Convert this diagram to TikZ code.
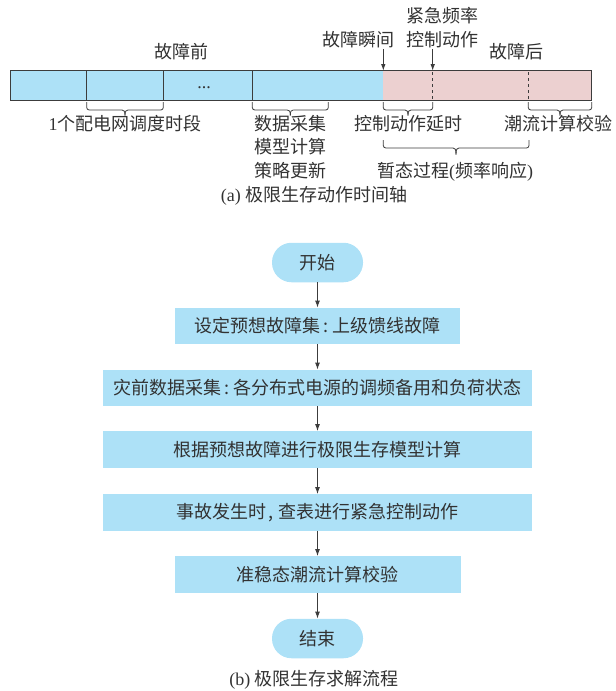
\documentclass[tikz,border=0pt]{standalone}
\usepackage{fontspec}
\setmainfont{Liberation Serif}
\newfontfamily\cjk{Noto Sans CJK SC}
\usetikzlibrary{arrows.meta}
\definecolor{fillblue}{RGB}{173,225,247}
\definecolor{fillpink}{RGB}{236,208,208}
\definecolor{ink}{RGB}{60,60,60}
\definecolor{txt}{RGB}{50,50,50}
\newcommand\mybrace[6]{%
  \draw[brc,rounded corners=2.5pt] (#1,#4) -- (#1,#5) -- (#3-3,#5);
  \draw[brc] (#3-3,#5) .. controls (#3-1,#5) and (#3,#5+1) .. (#3,#6);
  \draw[brc,rounded corners=2.5pt] (#2,#4) -- (#2,#5) -- (#3+3,#5);
  \draw[brc] (#3+3,#5) .. controls (#3+1,#5) and (#3,#5+1) .. (#3,#6);
}
\begin{document}
\begin{tikzpicture}[x=1pt,y=-1pt,
  lbl/.style={font=\cjk\fontsize{18}{23.5}\selectfont, text=txt, inner sep=0pt, align=center},
  proc/.style={lbl, fill=fillblue, minimum height=36.5pt},
  term/.style={lbl, fill=fillblue, rounded corners=19.5pt, minimum width=91pt, minimum height=39.5pt},
  flow/.style={draw=ink, line width=0.9pt, -{Latex[length=7pt,width=5pt]}},
  tickarrow/.style={draw=ink, line width=0.9pt, -{Latex[length=6.5pt,width=4.5pt]}},
  brc/.style={draw=ink, line width=0.8pt},
  barline/.style={draw=ink, line width=1pt},
  dashline/.style={draw=ink, line width=1.1pt, dash pattern=on 3pt off 3pt}]
\useasboundingbox (0,0) rectangle (616,691);

% ---------- (a) timeline ----------
\fill[fillblue] (10,70.7) rectangle (383.3,100.7);
\fill[fillpink] (383.3,70.7) rectangle (591.7,100.7);
\draw[barline] (10,70.7) rectangle (591.7,100.7);
\draw[barline] (86.7,70.7) -- (86.7,100.7);
\draw[barline] (163.3,70.7) -- (163.3,100.7);
\draw[barline] (252.3,70.7) -- (252.3,100.7);
\draw[dashline] (432.7,72) -- (432.7,100.7);
\draw[dashline] (528.3,72) -- (528.3,100.7);

\node[font=\rmfamily\fontsize{18}{20}\selectfont, text=txt, inner sep=0pt, anchor=base] (dots) at (204,88.5) {...};

\node[lbl] (pre) at (181,52) {故障前};
\node[lbl] (post) at (516,52) {故障后};
\node[lbl] (inst) at (358,40) {故障瞬间};
\node[lbl] (emer) at (442,27.5) {紧急频率\\控制动作};

\coordinate (fa) at (383.3,49);
\coordinate (fb) at (383.3,70.7);
\coordinate (ca) at (432.7,49);
\coordinate (cb) at (432.7,70.7);
\draw[tickarrow] (fa) -- (fb);
\draw[tickarrow] (ca) -- (cb);

\mybrace{86.7}{163.3}{125}{102}{110}{115.5}
\mybrace{252.3}{328.3}{290.3}{102}{110}{115.5}
\mybrace{383.3}{432.7}{408}{102}{110}{115.5}
\mybrace{528.3}{591.7}{560}{102}{110}{115.5}
\mybrace{383.3}{529}{456}{140}{148}{154.5}

\node[lbl] (period) at (125,123.5) {{\rmfamily 1}个配电网调度时段};
\node[lbl] (calc) at (290.3,147) {数据采集\\模型计算\\策略更新};
\node[lbl] (delay) at (408,123.5) {控制动作延时};
\node[lbl] (check) at (558,123.5) {潮流计算校验};
\node[lbl] (trans) at (455,171.5) {暂态过程{\rmfamily(}频率响应{\rmfamily)}};
\node[lbl] (capa) at (314,196) {{\rmfamily (a)} 极限生存动作时间轴};

% ---------- (b) flowchart ----------
\node[term] (s) at (317.5,262.5) {开始};
\node[proc, minimum width=285pt] (b1) at (317.5,326) {设定预想故障集\hspace{0.2em}:\hspace{0.2em}上级馈线故障};
\node[proc, minimum width=429pt] (b2) at (317.5,388) {灾前数据采集\hspace{0.2em}:\hspace{0.2em}各分布式电源的调频备用和负荷状态};
\node[proc, minimum width=429pt] (b3) at (317.5,449.5) {根据预想故障进行极限生存模型计算};
\node[proc, minimum width=429pt] (b4) at (317.5,512.5) {事故发生时\hspace{0.1em},\hspace{0.3em}查表进行紧急控制动作};
\node[proc, minimum width=286pt] (b5) at (317.5,574.5) {准稳态潮流计算校验};
\node[term] (e) at (317.5,638.5) {结束};
\node[lbl] (capb) at (314,680) {{\rmfamily (b)} 极限生存求解流程};

\draw[flow] (s) -- (b1);
\draw[flow] (b1) -- (b2);
\draw[flow] (b2) -- (b3);
\draw[flow] (b3) -- (b4);
\draw[flow] (b4) -- (b5);
\draw[flow] (b5) -- (e);
\end{tikzpicture}
\end{document}
